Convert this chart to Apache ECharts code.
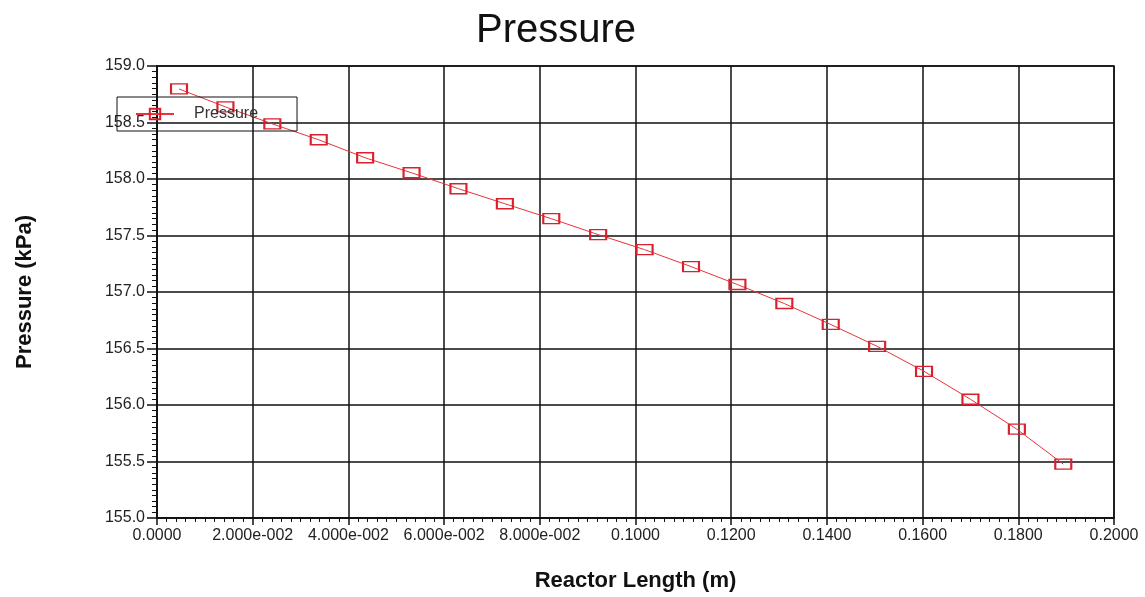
<!DOCTYPE html>
<html>
<head>
<meta charset="utf-8">
<script src="https://cdn.jsdelivr.net/npm/echarts@6/dist/echarts.min.js"></script>
<style>
html,body{margin:0;padding:0;background:#fff;}
#chart{width:1145px;height:597px;}
</style>
</head>
<body>
<div id="chart"></div>
<script>
const reactorLength = [0.0046, 0.0143, 0.0241, 0.0338, 0.0435, 0.0532, 0.0630, 0.0727, 0.0824, 0.0922,
  0.1019, 0.1116, 0.1213, 0.1311, 0.1408, 0.1505, 0.1603, 0.1700, 0.1797, 0.1894];
const pressure = [158.797, 158.638, 158.488, 158.347, 158.188, 158.055, 157.914, 157.781, 157.649, 157.508,
  157.375, 157.225, 157.066, 156.898, 156.713, 156.519, 156.298, 156.051, 155.786, 155.477];
const xTickLabels = ['0.0000', '2.000e-002', '4.000e-002', '6.000e-002', '8.000e-002', '0.1000',
  '0.1200', '0.1400', '0.1600', '0.1800', '0.2000'];
const seriesName = 'Pressure';

const FONT = '"Liberation Sans", Arial, sans-serif';
const chart = echarts.init(document.getElementById('chart'));
const data = reactorLength.map((x, i) => [x, pressure[i]]);

chart.setOption({
  backgroundColor: '#fff',
  animation: false,
  title: {
    text: 'Pressure',
    left: 476,
    top: 11,
    padding: 0,
    textStyle: {fontFamily: FONT, fontSize: 40, fontWeight: 'normal', color: '#111'}
  },
  legend: {
    left: 117,
    top: 97,
    orient: 'horizontal',
    backgroundColor: 'transparent',
    borderColor: '#111',
    borderWidth: 1,
    padding: [9, 39, 9, 18],
    itemWidth: 38,
    itemHeight: 13,
    textStyle: {fontFamily: FONT, fontSize: 16, color: '#333', padding: [0, 0, 0, 15]},
    data: [seriesName]
  },
  grid: {
    left: 157, right: 31, top: 66, bottom: 79,
    show: true, borderColor: '#111', borderWidth: 1.5, backgroundColor: 'transparent'
  },
  xAxis: {
    type: 'value',
    min: 0, max: 0.2, interval: 0.02,
    name: 'Reactor Length (m)',
    nameLocation: 'middle',
    nameGap: 52,
    nameTextStyle: {fontFamily: FONT, fontSize: 22, fontWeight: 'bold', color: '#111'},
    axisLine: {show: true, onZero: false, lineStyle: {color: '#111', width: 1.5}},
    axisTick: {show: true, length: 7, lineStyle: {color: '#111', width: 1.5}},
    minorTick: {show: true, splitNumber: 10, length: 4, lineStyle: {color: '#111', width: 1}},
    splitLine: {show: true, lineStyle: {color: '#111', width: 1.5}},
    axisLabel: {
      fontFamily: FONT, fontSize: 16, color: '#222', margin: 10,
      formatter: v => xTickLabels[Math.round(v / 0.02)]
    }
  },
  yAxis: {
    type: 'value',
    min: 155, max: 159, interval: 0.5,
    name: 'Pressure (kPa)',
    nameLocation: 'middle',
    nameGap: 121,
    nameRotate: 90,
    nameTextStyle: {fontFamily: FONT, fontSize: 22, fontWeight: 'bold', color: '#111'},
    axisLine: {show: true, onZero: false, lineStyle: {color: '#111', width: 1.5}},
    axisTick: {show: true, length: 10, lineStyle: {color: '#111', width: 1.5}},
    minorTick: {show: true, splitNumber: 10, length: 5, lineStyle: {color: '#111', width: 1}},
    splitLine: {show: true, lineStyle: {color: '#111', width: 1.5}},
    axisLabel: {
      fontFamily: FONT, fontSize: 16, color: '#222', margin: 12,
      formatter: v => v.toFixed(1)
    }
  },
  series: [{
    name: seriesName,
    type: 'line',
    data: data,
    symbol: 'rect',
    symbolSize: [16, 10],
    showAllSymbol: true,
    lineStyle: {color: '#e8343a', width: 1},
    itemStyle: {color: 'rgba(255,255,255,0)', borderColor: '#d9202c', borderWidth: 1.7},
    emphasis: {disabled: true}
  }]
});
</script>
</body>
</html>
